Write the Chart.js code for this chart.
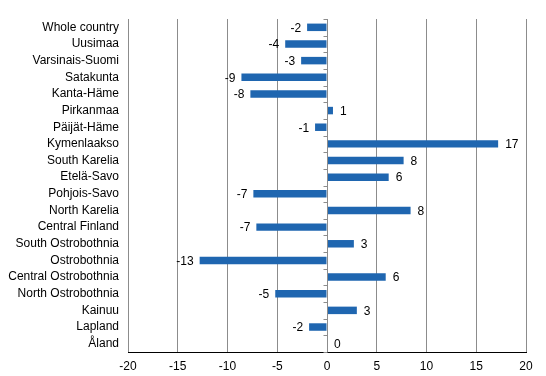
<!DOCTYPE html>
<html>
<head>
<meta charset="utf-8">
<script src="https://cdn.jsdelivr.net/npm/chart.js@4/dist/chart.umd.min.js"></script>
<style>
  html, body { margin: 0; padding: 0; background: #fff; }
  #wrap { width: 546px; height: 376px; }
</style>
</head>
<body>
<div id="wrap"><canvas id="chart" width="546" height="376"></canvas></div>
<script>
const regions = [
    'Whole country', 'Uusimaa', 'Varsinais-Suomi', 'Satakunta', 'Kanta-Häme',
    'Pirkanmaa', 'Päijät-Häme', 'Kymenlaakso', 'South Karelia', 'Etelä-Savo',
    'Pohjois-Savo', 'North Karelia', 'Central Finland', 'South Ostrobothnia',
    'Ostrobothnia', 'Central Ostrobothnia', 'North Ostrobothnia', 'Kainuu',
    'Lapland', 'Åland'
];
const change = [
    -2.0, -4.2, -2.6, -8.6, -7.7,
    0.6, -1.2, 17.2, 7.7, 6.2,
    -7.4, 8.4, -7.1, 2.7,
    -12.8, 5.9, -5.2, 3.0,
    -1.8, 0
];
const axisMin = -20;
const axisMax = 20;
const axisStep = 5;

const fontFamily = '"Liberation Sans", Arial, sans-serif';
const barColor = '#1f66b0';
const gridColor = '#8c8c8c';

// value labels next to each bar end
const valueLabels = {
    id: 'valueLabels',
    afterDatasetsDraw(chart) {
        const ctx = chart.ctx;
        const meta = chart.getDatasetMeta(0);
        ctx.save();
        ctx.font = '12px ' + fontFamily;
        ctx.fillStyle = '#000';
        ctx.textBaseline = 'middle';
        meta.data.forEach((bar, i) => {
            const v = change[i];
            const txt = String(Math.round(v));
            if (v < 0) {
                ctx.textAlign = 'right';
                ctx.fillText(txt, bar.x - 6, bar.y + 1);
            } else {
                ctx.textAlign = 'left';
                ctx.fillText(txt, bar.x + 7, bar.y + 1);
            }
        });
        ctx.restore();
    }
};

// zero line with small category tick marks
const zeroAxis = {
    id: 'zeroAxis',
    afterDatasetsDraw(chart) {
        const ctx = chart.ctx;
        const x0 = Math.round(chart.scales.x.getPixelForValue(0)) + 0.5;
        const area = chart.chartArea;
        const n = regions.length;
        const step = (area.bottom - area.top) / n;
        ctx.save();
        ctx.strokeStyle = gridColor;
        ctx.lineWidth = 1;
        ctx.beginPath();
        ctx.moveTo(x0, area.top);
        ctx.lineTo(x0, area.bottom);
        for (let i = 0; i <= n; i++) {
            const y = Math.round(area.top + i * step) + 0.5;
            ctx.moveTo(x0 - 4, y);
            ctx.lineTo(x0, y);
        }
        ctx.stroke();
        ctx.restore();
    }
};

new Chart(document.getElementById('chart'), {
    type: 'bar',
    data: {
        labels: regions,
        datasets: [{
            data: change,
            backgroundColor: barColor,
            borderWidth: 0,
            categoryPercentage: 1,
            barPercentage: 0.45
        }]
    },
    options: {
        indexAxis: 'y',
        responsive: false,
        animation: false,
        layout: { padding: { top: 19, right: 20, left: 0, bottom: 0 } },
        plugins: {
            legend: { display: false },
            tooltip: { enabled: false }
        },
        scales: {
            x: {
                min: axisMin,
                max: axisMax,
                afterFit(scale) { scale.height = 24; },
                ticks: {
                    stepSize: axisStep,
                    color: '#000',
                    font: { family: fontFamily, size: 12 },
                    padding: 7
                },
                grid: {
                    color: gridColor,
                    drawTicks: false
                },
                border: { color: '#000', width: 1 }
            },
            y: {
                afterFit(scale) { scale.width = 128; },
                ticks: {
                    color: '#000',
                    font: { family: fontFamily, size: 12 },
                    padding: 9,
                    autoSkip: false
                },
                grid: { display: false, drawTicks: false },
                border: { display: false }
            }
        }
    },
    plugins: [valueLabels, zeroAxis]
});
</script>
</body>
</html>
